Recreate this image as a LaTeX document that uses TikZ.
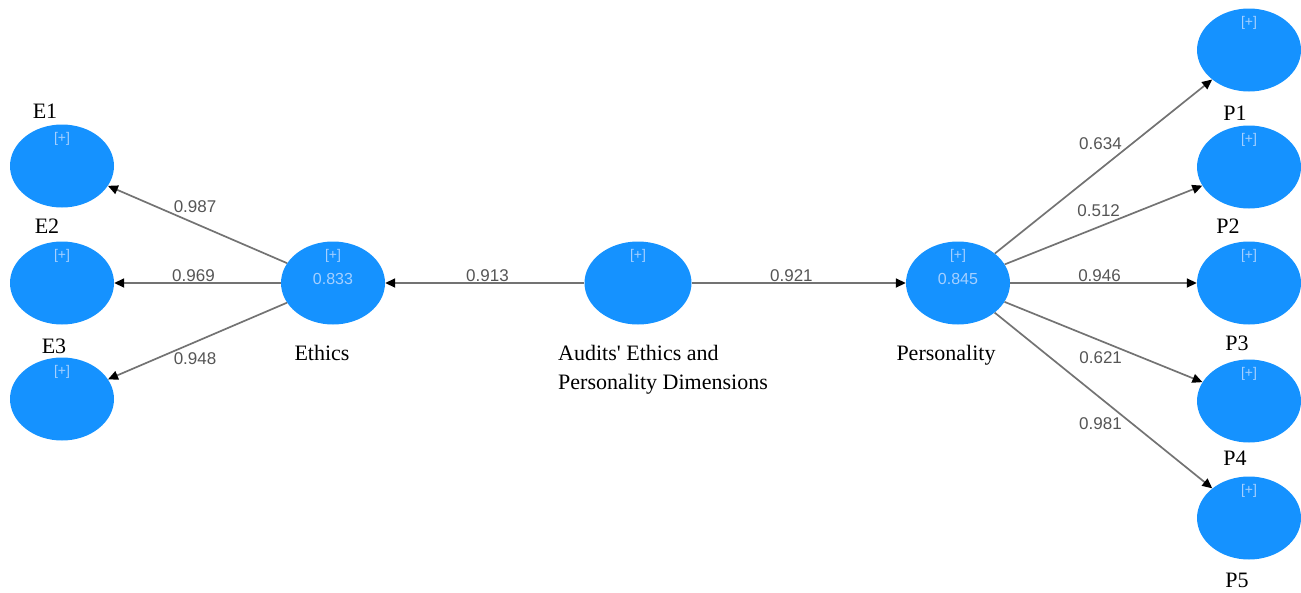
\documentclass[tikz,border=0pt]{standalone}
\usepackage{fontspec}
\setmainfont{Liberation Serif}
\setsansfont{Liberation Sans}
\usepackage{xcolor}
\usepackage{tikz}
\usetikzlibrary{shapes.geometric,arrows.meta}

\definecolor{plsblue}{RGB}{21,146,255}
\definecolor{plstag}{RGB}{165,208,255}
\definecolor{pathgray}{RGB}{115,115,115}
\definecolor{valgray}{RGB}{85,85,85}

\tikzset{
	construct/.style={ellipse, fill=plsblue, minimum width=104pt, minimum height=83pt, inner sep=0pt},
	plustag/.style={font=\sffamily\fontsize{14}{14}\selectfont, text=plstag, inner sep=0pt},
	plspath/.style={draw=pathgray, line width=1.7pt, -{Triangle[length=10pt,width=9pt,color=black]}},
	pathlbl/.style={font=\sffamily\fontsize{17}{17}\selectfont, text=valgray, inner sep=0.5pt},
	conlbl/.style={font=\fontsize{22}{29}\selectfont, inner sep=0pt, anchor=base}
}

\begin{document}
\begin{tikzpicture}[x=1pt, y=-1pt]
			\useasboundingbox (0,0) rectangle (1301,592);
			
			% Ethics indicators
			\foreach \name/\y/\txt/\lx/\ly in {e1/166/E1/45/118, e2/283/E2/47/233, e3/399/E3/54/353} {
				\node[construct] (\name) at (62,\y) {};
				\node[plustag] at ([yshift=27pt]\name.center) {[+]};
				\node[conlbl] (\name lbl) at (\lx,\ly) {\txt};
			}
			
			% Personality indicators
			\foreach \name/\y/\txt/\lx/\ly in {p1/50/P1/1235/120, p2/167/P2/1228/233, p3/283/P3/1237/350, p4/401/P4/1235/465, p5/518/P5/1237/587} {
				\node[construct] (\name) at (1249,\y) {};
				\node[plustag] at ([yshift=27pt]\name.center) {[+]};
				\node[conlbl] (\name lbl) at (\lx,\ly) {\txt};
			}
			
			% Constructs
			\node[construct] (eth) at (333,283) {};
			\node[plustag] at ([yshift=27pt]eth.center) {[+]};
			\node[plustag, font=\sffamily\fontsize{16}{16}\selectfont] at ([yshift=4pt]eth.center) {0.833};
			\node[conlbl] (ethlbl) at (322,360) {Ethics};
			
			\node[construct, minimum width=107pt] (aud) at (638,283) {};
			\node[plustag] at ([yshift=27pt]aud.center) {[+]};
			\node[conlbl, anchor=north west, align=left] (audlbl) at (558,345) {Audits\textquotesingle{} Ethics and\\Personality Dimensions};
			
			\node[construct] (pers) at (958,283) {};
			\node[plustag] at ([yshift=27pt]pers.center) {[+]};
			\node[plustag, font=\sffamily\fontsize{16}{16}\selectfont] at ([yshift=4pt]pers.center) {0.845};
			\node[conlbl] (perslbl) at (946,360) {Personality};
			
			% Paths
			\draw[plspath] (aud) -- (eth) node[pathlbl, anchor=south west, pos=0.6] {0.913};
			\draw[plspath] (aud) -- (pers) node[pathlbl, anchor=south west, pos=0.36] {0.921};
			
			\foreach \to/\val/\anc/\p in {e1/0.987/south west/0.64, e2/0.969/south west/0.66, e3/0.948/north west/0.64} {
				\draw[plspath] (eth) -- (\to) node[pathlbl, anchor=\anc, pos=\p] {\val};
			}
			
			\foreach \to/\val/\anc/\p in {p1/0.634/south east/0.59, p2/0.512/south east/0.59, p3/0.946/south east/0.6, p4/0.621/north east/0.6, p5/0.981/north east/0.59} {
				\draw[plspath] (pers) -- (\to) node[pathlbl, anchor=\anc, pos=\p] {\val};
			}
		\end{tikzpicture}
\end{document}
